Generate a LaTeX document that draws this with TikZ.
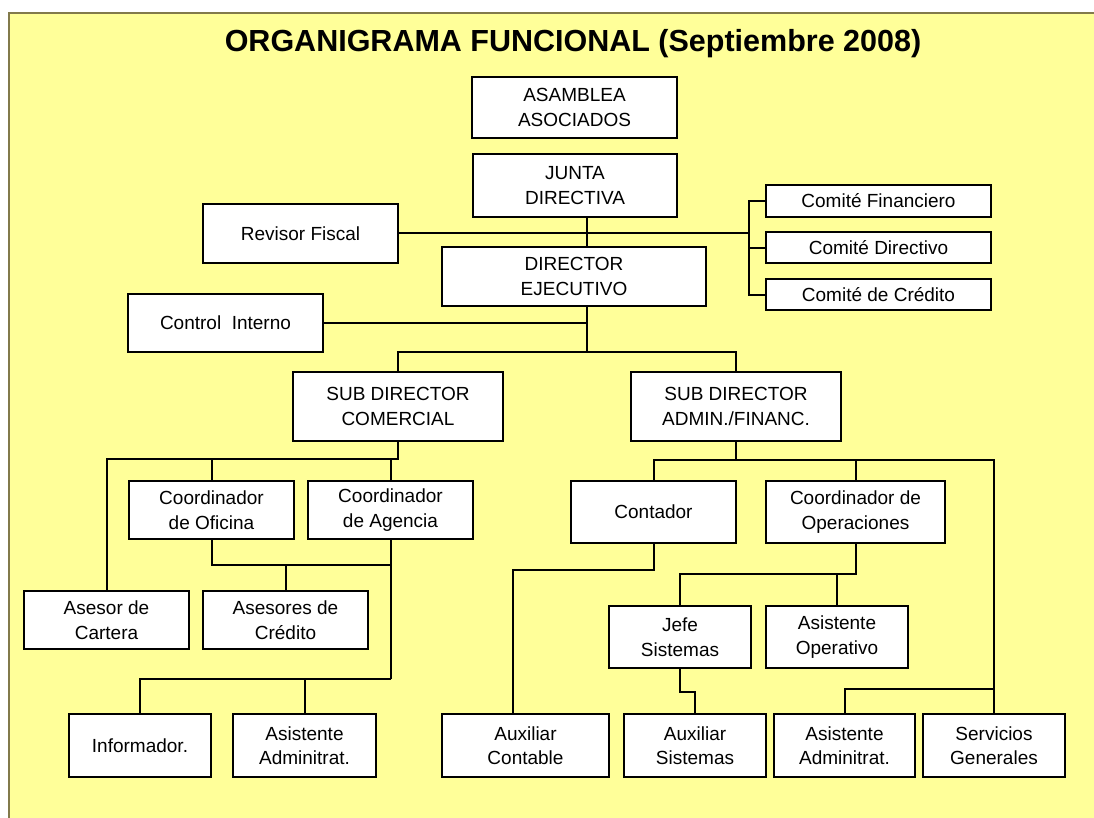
\documentclass[tikz,border=0pt]{standalone}
\usepackage{fontspec}
\setmainfont{Liberation Sans}
\definecolor{bgyellow}{RGB}{255,255,153}
\definecolor{framecol}{RGB}{130,122,75}
\begin{document}
\begin{tikzpicture}[x=1pt,y=-1pt,
  box/.style={draw=black,line width=2pt,fill=white,align=center,inner sep=0pt,
    font=\fontsize{19}{24.5}\selectfont},
  conn/.style={draw=black,line width=2pt}]
\useasboundingbox (0,0) rectangle (1094,817);
\fill[white] (0,0) rectangle (1094,817);
\draw[fill=bgyellow,draw=framecol,line width=2pt] (9,13) rectangle (1110,830);
\node[anchor=base,font=\fontsize{30.5}{34}\selectfont\bfseries] (title) at (573,51) {ORGANIGRAMA FUNCIONAL (Septiembre 2008)};
% boxes
\node[box,minimum width=205,minimum height=61] (asam) at (574.5,107.5) {ASAMBLEA\\ASOCIADOS};
\node[box,minimum width=204,minimum height=63] (junta) at (575,185.5) {JUNTA\\DIRECTIVA};
\node[box,minimum width=195,minimum height=59] (revisor) at (300.5,233.5) {Revisor Fiscal};
\node[box,minimum width=264,minimum height=59] (director) at (574,276.5) {DIRECTOR\\EJECUTIVO};
\node[box,minimum width=195,minimum height=58] (control) at (225.5,323) {Control~~Interno};
\node[box,minimum width=225,minimum height=32] (cfin) at (878.5,201) {Comité Financiero};
\node[box,minimum width=225,minimum height=31] (cdir) at (878.5,247.5) {Comité Directivo};
\node[box,minimum width=225,minimum height=31] (ccred) at (878.5,294.5) {Comité de Crédito};
\node[box,minimum width=210,minimum height=69] (subcom) at (398,406.5) {SUB DIRECTOR\\COMERCIAL};
\node[box,minimum width=210,minimum height=69] (subadm) at (736,406.5) {SUB DIRECTOR\\ADMIN./FINANC.};
\node[box,minimum width=165,minimum height=58] (coofi) at (211.5,510) {Coordinador\\de Oficina};
\node[box,minimum width=165,minimum height=58] (cooag) at (390.5,510) {Coordinador\\de Agencia};
\node[box,minimum width=165,minimum height=58] (asecar) at (106.5,620) {Asesor de\\Cartera};
\node[box,minimum width=165,minimum height=58] (asecre) at (285.5,620) {Asesores de\\Crédito};
\node[box,minimum width=142,minimum height=63] (info) at (140,745.5) {Informador.};
\node[box,minimum width=143,minimum height=63] (asiadmA) at (304.5,745.5) {Asistente\\Adminitrat.};
\node[box,minimum width=165,minimum height=62] (contador) at (653.5,512) {Contador};
\node[box,minimum width=179,minimum height=62] (coop) at (855.5,512) {Coordinador de\\Operaciones};
\node[box,minimum width=142,minimum height=62] (jefe) at (680,637) {Jefe\\Sistemas};
\node[box,minimum width=142,minimum height=62] (asiop) at (837,637) {Asistente\\Operativo};
\node[box,minimum width=167,minimum height=63] (auxcon) at (525.5,745.5) {Auxiliar\\Contable};
\node[box,minimum width=142,minimum height=63] (auxsis) at (695,745.5) {Auxiliar\\Sistemas};
\node[box,minimum width=141,minimum height=63] (asiadmB) at (844.5,745.5) {Asistente\\Adminitrat.};
\node[box,minimum width=142,minimum height=63] (servgen) at (994,745.5) {Servicios\\Generales};
% junction coordinates
\coordinate (jx) at (587,0);
\coordinate (bx) at (749,0);
\coordinate (d1) at (587,352);
\coordinate (c1) at (0,459);
\coordinate (c2) at (0,565);
\coordinate (c3) at (0,679);
\coordinate (c4) at (0,460);
\coordinate (c5) at (513,570);
\coordinate (c6) at (0,574);
\coordinate (c7) at (0,692);
\coordinate (c8) at (0,689);
\coordinate (rv) at (0,233);
% connectors
\draw[conn] (junta.south -| jx) -- (director.north -| jx);
\draw[conn] (revisor.east |- rv) -- (bx |- rv);
\draw[conn] (cfin.west) -- (cfin.west -| bx) -- (ccred.west -| bx) -- (ccred.west);
\draw[conn] (cdir.west) -- (cdir.west -| bx);
\draw[conn] (director.south -| jx) -- (d1);
\draw[conn] (control.east) -- (control.east -| jx);
\draw[conn] (subcom.north) |- (d1) -| (subadm.north);
% comercial
\draw[conn] (subcom.south) -- (subcom.south |- c1) -| (asecar.north);
\draw[conn] (coofi.north) -- (coofi.north |- c1);
\draw[conn] (cooag.north) -- (cooag.north |- c1);
\draw[conn] (coofi.south) |- (cooag.south |- c2);
\draw[conn] (cooag.south) -- (cooag.south |- c3);
\draw[conn] (asecre.north) -- (asecre.north |- c2);
\draw[conn] (info.north) |- (cooag.south |- c3);
\draw[conn] (asiadmA.north) -- (asiadmA.north |- c3);
% admin
\draw[conn] (subadm.south) -- (subadm.south |- c4);
\draw[conn] (contador.north) |- (servgen.north |- c4) -- (servgen.north);
\draw[conn] (coop.north) -- (coop.north |- c4);
\draw[conn] (contador.south) |- (c5) -- (c5 |- auxcon.north);
\draw[conn] (coop.south) |- (jefe.north |- c6) -- (jefe.north);
\draw[conn] (asiop.north) -- (asiop.north |- c6);
\draw[conn] (jefe.south) |- (auxsis.north |- c7) -- (auxsis.north);
\draw[conn] (asiadmB.north) |- (servgen.north |- c8);
\end{tikzpicture}
\end{document}
